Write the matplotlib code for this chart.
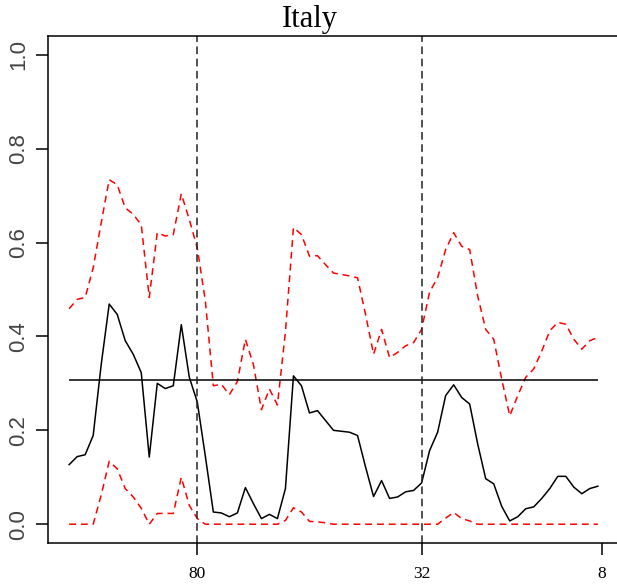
import matplotlib
matplotlib.use("Agg")
import matplotlib.pyplot as plt
import numpy as np

# estimate (black) with upper / lower bands (red), one value per period
estimate = [0.127, 0.144, 0.148, 0.189, 0.340, 0.469, 0.447, 0.391, 0.362, 0.323,
            0.143, 0.300, 0.289, 0.295, 0.425, 0.313, 0.260, 0.145, 0.026, 0.024,
            0.016, 0.024, 0.078, 0.044, 0.012, 0.021, 0.012, 0.076, 0.316, 0.295,
            0.237, 0.242, 0.221, 0.200, 0.198, 0.196, 0.189, 0.122, 0.059, 0.093,
            0.055, 0.058, 0.069, 0.072, 0.088, 0.157, 0.196, 0.274, 0.297, 0.270,
            0.256, 0.171, 0.097, 0.086, 0.038, 0.007, 0.016, 0.033, 0.037, 0.055,
            0.076, 0.102, 0.102, 0.079, 0.065, 0.076, 0.081]
upper = [0.459, 0.479, 0.483, 0.546, 0.642, 0.734, 0.723, 0.674, 0.660, 0.638,
         0.483, 0.621, 0.614, 0.617, 0.704, 0.649, 0.588, 0.476, 0.295, 0.298,
         0.276, 0.304, 0.394, 0.340, 0.244, 0.288, 0.254, 0.410, 0.632, 0.617,
         0.571, 0.572, 0.553, 0.535, 0.532, 0.529, 0.525, 0.447, 0.362, 0.415,
         0.355, 0.366, 0.380, 0.387, 0.415, 0.495, 0.525, 0.585, 0.621, 0.592,
         0.585, 0.486, 0.415, 0.394, 0.309, 0.231, 0.274, 0.313, 0.331, 0.369,
         0.412, 0.430, 0.426, 0.394, 0.373, 0.391, 0.398]
lower = [0.0, 0.0, 0.0, 0.0, 0.062, 0.134, 0.118, 0.076, 0.058, 0.034,
         0.0, 0.023, 0.023, 0.023, 0.100, 0.040, 0.012, 0.0, 0.0, 0.0,
         0.0, 0.0, 0.0, 0.0, 0.0, 0.0, 0.0, 0.008, 0.035, 0.026,
         0.006, 0.005, 0.003, 0.0, 0.0, 0.0, 0.0, 0.0, 0.0, 0.0,
         0.0, 0.0, 0.0, 0.0, 0.0, 0.0, 0.0, 0.013, 0.025, 0.012,
         0.007, 0.0, 0.0, 0.0, 0.0, 0.0, 0.0, 0.0, 0.0, 0.0,
         0.0, 0.0, 0.0, 0.0, 0.0, 0.0, 0.0]
threshold = 0.307

tick_pos = [17, 45, 67.5]
tick_labels = ["80", "32", "8"]
break_pos = [17, 45]

x = np.arange(1, len(estimate) + 1)
n = len(x)

fig = plt.figure(figsize=(6.17, 5.86), dpi=100)
ax = fig.add_axes([48 / 617, 43 / 586, 571 / 617, 507 / 586])

red_dash = (0, (4.5, 3.2))
ax.plot(x, upper, color="red", lw=1.1, linestyle=red_dash)
ax.plot(x, lower, color="red", lw=1.1, linestyle=red_dash)
ax.plot(x, estimate, color="black", lw=1.1)
ax.hlines(threshold, x[0], x[-1], color="black", lw=1.1)
for b in break_pos:
    ax.axvline(b, color="#222222", lw=1.1, linestyle=(0, (5, 3)))

# R style 4% padding on both axes
ax.set_xlim(1 - 0.04 * (n - 1), n + 0.04 * (n - 1))
ax.set_ylim(-0.04, 1.04)

ax.set_xticks(tick_pos)
ax.set_xticklabels(tick_labels, family="Liberation Serif", fontsize=12.5)
ax.set_yticks([0.0, 0.2, 0.4, 0.6, 0.8, 1.0])
ax.set_yticklabels(["0.0", "0.2", "0.4", "0.6", "0.8", "1.0"],
                   family=["Liberation Sans Narrow", "Liberation Sans"],
                   fontsize=16, rotation=90, va="center", color="#444444")
ax.tick_params(axis="both", direction="out", length=8.6, width=1.1, color="black")
ax.tick_params(axis="x", pad=8)
ax.tick_params(axis="y", pad=5)
for s in ax.spines.values():
    s.set_linewidth(1.1)
# box runs off the right edge of the image
ax.spines["right"].set_visible(False)

fig.text(309.5 / 617, 1 - 27 / 586, "Italy", ha="center", va="baseline",
         family="Liberation Serif", fontsize=22)

fig.savefig("out.png", dpi=100)
